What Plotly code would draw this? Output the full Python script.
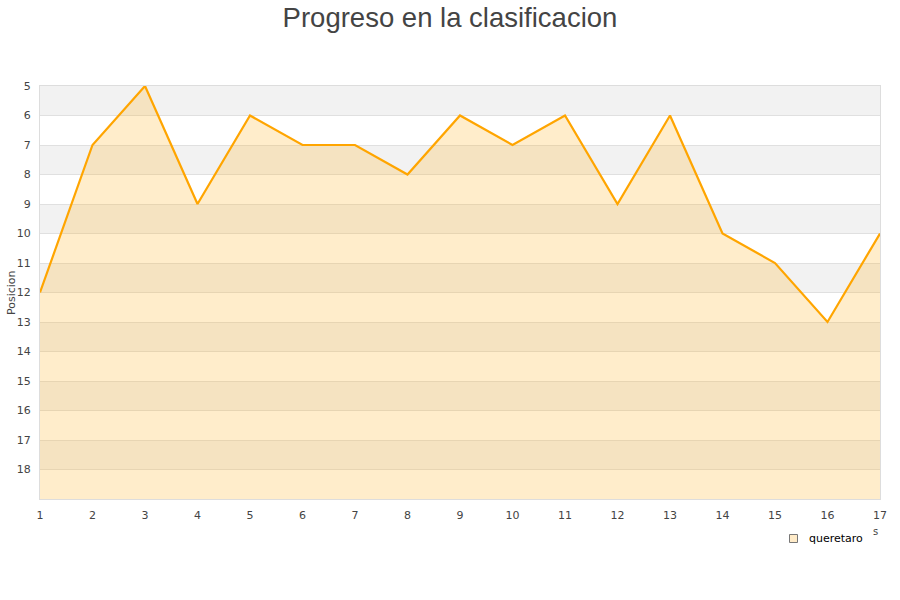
import plotly.graph_objects as go

jornadas = list(range(1, 18))
posicion = [12, 7, 5, 9, 6, 7, 7, 8, 6, 7, 6, 9, 6, 10, 11, 13, 10]
y_ticks = list(range(5, 19))
equipo = "queretaro"

W, H = 900, 600
L, R, T, B = 40, 20, 86, 101
pw, ph = W - L - R, H - T - B


def px_x(p):
    return (p - L) / pw


def px_y(p):
    return (H - B - p) / ph


fig = go.Figure()

fig.add_trace(go.Scatter(x=jornadas, y=[19] * len(jornadas), mode="lines",
                         line=dict(width=0, color="rgba(0,0,0,0)"),
                         showlegend=False, hoverinfo="skip"))
fig.add_trace(go.Scatter(x=jornadas, y=posicion, mode="lines", fill="tonexty",
                         fillcolor="rgba(255,177,29,0.23)",
                         line=dict(color="#FFA500", width=2.2),
                         name=equipo, showlegend=False))

shapes = []
for v in range(5, 19, 2):
    shapes.append(dict(type="rect", xref="paper", yref="y", x0=0, x1=1,
                       y0=v, y1=v + 1, fillcolor="#F2F2F2", line=dict(width=0),
                       layer="below"))
# legend square
shapes.append(dict(type="rect", xref="paper", yref="paper",
                   x0=px_x(789.5), x1=px_x(797.5), y0=px_y(542.5), y1=px_y(534.5),
                   fillcolor="#FFEBC8", line=dict(color="#777777", width=1)))

annotations = [
    dict(text=equipo, xref="paper", yref="paper", x=px_x(807), y=px_y(538),
         xanchor="left", yanchor="middle", showarrow=False,
         font=dict(family="DejaVu Sans", size=11, color="#000000")),
    dict(text="s", xref="paper", yref="paper", x=px_x(875), y=px_y(531),
         showarrow=False, font=dict(size=10, color="#444444"),
         xanchor="center", yanchor="middle"),
    dict(text="Posicion", xref="paper", yref="paper", x=px_x(11), y=px_y(292),
         textangle=-90, showarrow=False, xanchor="center", yanchor="middle",
         font=dict(family="DejaVu Sans", size=11, color="#444444")),
]

fig.update_layout(
    width=W, height=H,
    margin=dict(l=L, r=R, t=T, b=B, autoexpand=False),
    paper_bgcolor="white", plot_bgcolor="white",
    showlegend=False,
    shapes=shapes,
    annotations=annotations,
    title=dict(text="Progreso en la clasificacion", x=0.5, xanchor="center",
               yref="container", y=1 - 17 / H, yanchor="middle",
               font=dict(family="Liberation Sans, Arial", size=27.5, color="#444444")),
    font=dict(family="DejaVu Sans", size=11, color="#444444"),
    xaxis=dict(range=[1, 17], tickvals=jornadas, showgrid=False, zeroline=False,
               showline=True, linecolor="#DDDDDD", linewidth=1, mirror=True,
               ticks="", automargin=False, ticklabelstandoff=6,
               tickfont=dict(size=11, color="#444444")),
    yaxis=dict(range=[19, 5], tickvals=y_ticks, showgrid=True, gridcolor="#E0E0E0",
               gridwidth=1, zeroline=False, showline=True, linecolor="#DDDDDD",
               mirror=True, ticks="", automargin=False, ticklabelstandoff=6,
               tickfont=dict(size=11, color="#444444")),
)

fig.write_html("out.html", post_script="document.body.style.margin='0';",
               config={"displayModeBar": False})
